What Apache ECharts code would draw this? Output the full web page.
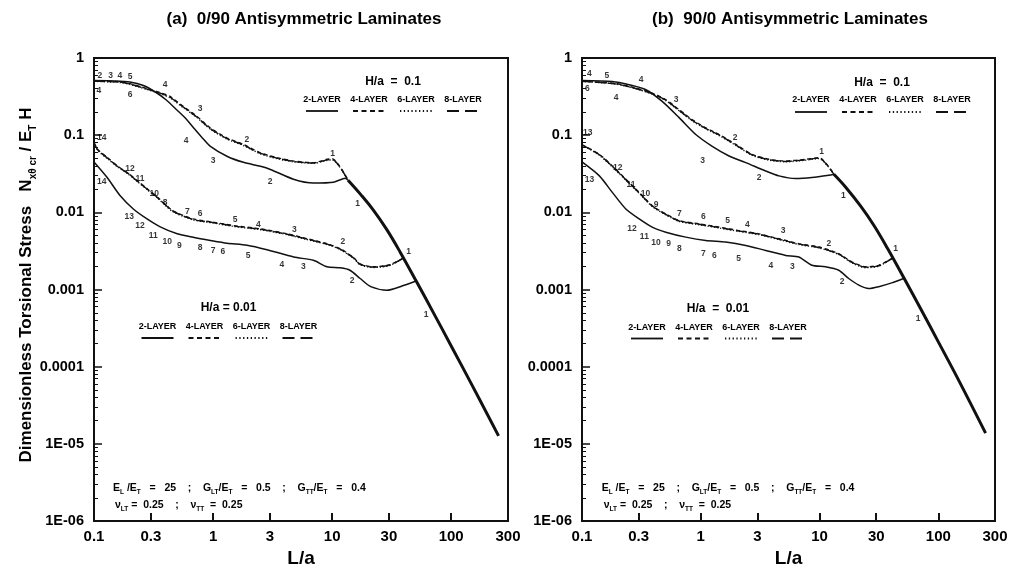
<!DOCTYPE html>
<html><head><meta charset="utf-8">
<script src="https://cdn.jsdelivr.net/npm/echarts@6/dist/echarts.min.js"></script>
<style>html,body{margin:0;padding:0;background:#fff}#c{width:1016px;height:573px}</style>
</head><body><div id="c"></div>
<script>
// ---------- axis ticks / labels ----------
const xTickValues = [0.1, 0.3, 1, 3, 10, 30, 100, 300];
const xTickLabels = ['0.1', '0.3', '1', '3', '10', '30', '100', '300'];
const xTickMarks = [0.3, 1, 3, 10, 30, 100];
const yTickValues = [1e-6, 1e-5, 1e-4, 1e-3, 1e-2, 1e-1, 1];
const yTickLabels = ['1E-06', '1E-05', '0.0001', '0.001', '0.01', '0.1', '1'];
const layerNames = ['2-LAYER', '4-LAYER', '6-LAYER', '8-LAYER'];
const panelTitles = ['(a)  0/90 Antisymmetric Laminates', '(b)  90/0 Antisymmetric Laminates'];

// ---------- panel (a) 0/90 ----------
// H/a = 0.1
const aTopSolidX = [0.1, 0.15, 0.2, 0.26, 0.33, 0.4, 0.5, 0.6, 0.7, 0.8, 0.95, 1.32, 1.8, 2.5, 3.03, 4.73, 6.97, 10.3, 12.9, 13.6];
const aTopSolidY = [0.51, 0.505, 0.49, 0.44, 0.36, 0.29, 0.21, 0.16, 0.12, 0.095, 0.0716, 0.053, 0.0445, 0.0395, 0.036, 0.0269, 0.024, 0.0246, 0.0277, 0.0261];
const aTopDashX = [0.1, 0.13, 0.17, 0.2, 0.28, 0.36, 0.435, 0.562, 0.73, 0.944, 1.3, 1.8, 2.48, 3.43, 4.73, 6.97, 9.02, 10.0, 13.6];
const aTop4Y = [0.50, 0.50, 0.49, 0.465, 0.40, 0.355, 0.318, 0.236, 0.176, 0.1245, 0.0926, 0.0759, 0.0593, 0.0512, 0.0463, 0.0441, 0.0487, 0.0497, 0.0261];
const aTop6Y = [0.50, 0.49, 0.48, 0.455, 0.39, 0.345, 0.305, 0.228, 0.170, 0.120, 0.0895, 0.0735, 0.0575, 0.0498, 0.0452, 0.0432, 0.0470, 0.0480, 0.0261];
const aTop8Y = [0.50, 0.495, 0.485, 0.46, 0.395, 0.35, 0.31, 0.232, 0.172, 0.122, 0.091, 0.0745, 0.0585, 0.0505, 0.0457, 0.0436, 0.0478, 0.0488, 0.0261];
// H/a = 0.01
const aLowSolidX = [0.1, 0.129, 0.166, 0.214, 0.279, 0.36, 0.5, 0.68, 0.95, 1.31, 1.93, 2.84, 4.76, 6.96, 9.08, 11.7, 14.1, 17.2, 21.1, 28.8, 37.3, 50];
const aLowSolidY = [0.045, 0.0283, 0.0164, 0.01106, 0.00822, 0.00649, 0.00527, 0.00475, 0.00432, 0.00398, 0.00375, 0.00328, 0.00264, 0.00239, 0.00197, 0.00191, 0.00178, 0.00139, 0.00109, 0.00098, 0.00109, 0.00128];
const aLowDashX = [0.1, 0.108, 0.131, 0.159, 0.193, 0.234, 0.284, 0.345, 0.46, 0.68, 1.0, 1.48, 2.5, 4.19, 6.17, 9.08, 11.7, 15.1, 17.2, 22.2, 30.6, 39.7];
const aLow4Y = [0.08, 0.0648, 0.0505, 0.0395, 0.0323, 0.0253, 0.0198, 0.0155, 0.0105, 0.00822, 0.00746, 0.00675, 0.00611, 0.00527, 0.00455, 0.00392, 0.00338, 0.0026, 0.00215, 0.00197, 0.0021, 0.00256];
const aLow6Y = [0.08, 0.063, 0.049, 0.0385, 0.0315, 0.0247, 0.0193, 0.0151, 0.0102, 0.0080, 0.00728, 0.00658, 0.00596, 0.00514, 0.00444, 0.00383, 0.00330, 0.00254, 0.0021, 0.00193, 0.00206, 0.00256];
const aLow8Y = [0.08, 0.064, 0.050, 0.039, 0.032, 0.025, 0.0196, 0.0153, 0.0104, 0.0081, 0.00737, 0.00667, 0.00604, 0.0052, 0.0045, 0.00388, 0.00334, 0.00257, 0.00212, 0.00195, 0.00208, 0.00256];
// common mode-1 branch
const aMode1X = [13.6, 17.2, 22.2, 28.8, 37.3, 51.5, 71, 100, 150, 250];
const aMode1Y = [0.0261, 0.01737, 0.01071, 0.00597, 0.00305, 0.00124, 0.000499, 0.000186, 5.73e-5, 1.27e-5];
// mode-number annotations [text, L/a, value]
const aModeLabels = [
  ['2', 0.112, 0.587], ['3', 0.138, 0.587], ['4', 0.165, 0.587], ['5', 0.2007, 0.565], ['6', 0.2007, 0.334], ['4', 0.110, 0.376],
  ['4', 0.395, 0.449], ['3', 0.778, 0.221], ['2', 1.92, 0.088], ['1', 10.1, 0.0581],
  ['4', 0.593, 0.0862], ['3', 1.0, 0.0463], ['2', 3.01, 0.0248], ['1', 16.4, 0.0131],
  ['14', 0.116, 0.093], ['12', 0.2007, 0.037], ['11', 0.2436, 0.0275], ['10', 0.321, 0.01725], ['8', 0.395, 0.0132],
  ['7', 0.608, 0.0102], ['6', 0.778, 0.00953], ['5', 1.53, 0.00805], ['4', 2.40, 0.00695], ['3', 4.82, 0.00593],
  ['2', 12.3, 0.00412], ['1', 43.8, 0.00312],
  ['14', 0.116, 0.0248], ['13', 0.198, 0.00891], ['12', 0.2436, 0.00675], ['11', 0.315, 0.00501], ['10', 0.413, 0.0042],
  ['9', 0.521, 0.00366], ['8', 0.778, 0.00348], ['7', 1.0, 0.00321], ['6', 1.21, 0.00306], ['5', 1.97, 0.00277],
  ['4', 3.78, 0.0021], ['3', 5.74, 0.00197], ['2', 14.7, 0.00132], ['1', 61.7, 0.000478]
];

// ---------- panel (b) 90/0 ----------
const bTopSolidX = [0.1, 0.18, 0.249, 0.345, 0.473, 0.657, 0.908, 1.24, 1.73, 2.39, 3.52, 4.55, 6.28, 8.61, 11.97, 13.2];
const bTopSolidY = [0.51, 0.495, 0.45, 0.388, 0.274, 0.169, 0.102, 0.0722, 0.0537, 0.0441, 0.0344, 0.0297, 0.0275, 0.0283, 0.0303, 0.0312];
const bTopDashX = [0.1, 0.18, 0.218, 0.284, 0.39, 0.508, 0.657, 0.845, 1.10, 1.43, 1.97, 2.70, 3.75, 5.18, 7.63, 9.87, 13.2];
const bTop4Y = [0.50, 0.472, 0.45, 0.407, 0.351, 0.288, 0.214, 0.159, 0.1245, 0.102, 0.0759, 0.0565, 0.0487, 0.0463, 0.0487, 0.0512, 0.0312];
const bTop6Y = [0.50, 0.465, 0.442, 0.398, 0.342, 0.28, 0.207, 0.154, 0.121, 0.099, 0.0738, 0.055, 0.0475, 0.0452, 0.0474, 0.0498, 0.0312];
const bTop8Y = [0.50, 0.468, 0.446, 0.402, 0.346, 0.284, 0.21, 0.156, 0.1225, 0.1005, 0.0748, 0.0557, 0.0481, 0.0457, 0.048, 0.0505, 0.0312];
const bLowSolidX = [0.1, 0.14, 0.18, 0.234, 0.303, 0.39, 0.508, 0.748, 1.10, 1.62, 2.39, 3.52, 5.18, 6.7, 8.61, 11.2, 14.5, 17.6, 21.4, 25.9, 31.5, 40.5, 51.5];
const bLowSolidY = [0.045, 0.0297, 0.01815, 0.01106, 0.00822, 0.00643, 0.00554, 0.00478, 0.00432, 0.00412, 0.00373, 0.00321, 0.00277, 0.00264, 0.00206, 0.00197, 0.00178, 0.00139, 0.00114, 0.00103, 0.00109, 0.00122, 0.0014];
const bLowDashX = [0.1, 0.14, 0.18, 0.234, 0.303, 0.39, 0.508, 0.657, 0.967, 1.43, 2.1, 3.09, 4.55, 6.7, 9.87, 14.5, 18.7, 24.4, 31.5, 41.5];
const bLow4Y = [0.075, 0.0565, 0.0399, 0.0269, 0.01815, 0.0122, 0.00953, 0.00782, 0.0071, 0.00643, 0.00581, 0.00527, 0.00455, 0.00392, 0.00356, 0.00292, 0.00228, 0.00197, 0.00206, 0.00257];
const bLow6Y = [0.075, 0.055, 0.0388, 0.0262, 0.0177, 0.0119, 0.0093, 0.00763, 0.00692, 0.00627, 0.00567, 0.00514, 0.00444, 0.00383, 0.00347, 0.00285, 0.00222, 0.00192, 0.00201, 0.00257];
const bLow8Y = [0.075, 0.0558, 0.0394, 0.0265, 0.0179, 0.0121, 0.0094, 0.00772, 0.00701, 0.00635, 0.00574, 0.0052, 0.0045, 0.00388, 0.00351, 0.00288, 0.00225, 0.00195, 0.00203, 0.00257];
const bMode1X = [13.2, 16.6, 22.2, 28.8, 37.3, 51.5, 71, 100, 150, 250];
const bMode1Y = [0.0312, 0.0212, 0.01204, 0.00672, 0.00343, 0.0014, 0.000563, 0.00021, 6.47e-5, 1.38e-5];
const bModeLabels = [
  ['4', 0.1156, 0.622], ['5', 0.1616, 0.592], ['6', 0.111, 0.399], ['4', 0.3144, 0.521], ['3', 0.619, 0.288], ['2', 1.95, 0.0926], ['1', 10.4, 0.0604],
  ['4', 0.1936, 0.303], ['3', 1.035, 0.0463], ['2', 3.10, 0.0283], ['1', 15.85, 0.0164],
  ['13', 0.112, 0.1074], ['12', 0.2, 0.038], ['11', 0.259, 0.0232], ['10', 0.3417, 0.01725], ['9', 0.42, 0.01245],
  ['7', 0.659, 0.00954], ['6', 1.05, 0.00891], ['5', 1.68, 0.00782], ['4', 2.47, 0.00695], ['3', 4.93, 0.00581],
  ['2', 12.0, 0.00392], ['1', 43.7, 0.00338],
  ['13', 0.1156, 0.0269], ['12', 0.264, 0.00611], ['11', 0.335, 0.00478], ['10', 0.42, 0.004], ['9', 0.536, 0.00392],
  ['8', 0.659, 0.00338], ['7', 1.05, 0.00292], ['6', 1.30, 0.00277], ['5', 2.08, 0.00251], ['4', 3.89, 0.00206],
  ['3', 5.91, 0.00197], ['2', 15.5, 0.00126], ['1', 67.6, 0.000425]
];

// ---------- build ----------
const FONT = '"Liberation Sans", Arial, Helvetica, sans-serif';
const INK = '#111';
const pairs = (xs, ys) => xs.map((x, i) => [x, ys[i]]);
const yMinor = [];
for (let e = -6; e < 0; e++) for (let m = 2; m <= 9; m++) yMinor.push(+(m * Math.pow(10, e)).toPrecision(3));
function pick(v, vals, labels) {
  for (let i = 0; i < vals.length; i++) if (Math.abs(Math.log10(v) - Math.log10(vals[i])) < 1e-6) return labels[i];
  return '';
}
const grids = [
  {left: 94, top: 58, width: 414, height: 466},
  {left: 582, top: 58, width: 413, height: 466}
];
const tickFont = {color: '#000', fontSize: 14.5, fontWeight: 'bold', fontFamily: FONT};

const xAxes = [0, 1].map(gi => ({
  type: 'log', logBase: 10, gridIndex: gi, min: 0.1, max: 300,
  axisLine: {show: true, onZero: false, lineStyle: {color: INK, width: 2}},
  axisTick: {show: true, inside: true, length: 8, customValues: xTickMarks, lineStyle: {color: INK, width: 2}},
  axisLabel: Object.assign({show: true, margin: 8, customValues: xTickValues, formatter: v => pick(v, xTickValues, xTickLabels)}, tickFont, {fontSize: 15}),
  splitLine: {show: false}, minorTick: {show: false},
  name: 'L/a', nameLocation: 'middle', nameGap: 27,
  nameTextStyle: {color: '#000', fontSize: 19, fontWeight: 'bold', fontFamily: FONT}
}));
const yAxes = [];
[0, 1].forEach(gi => {
  yAxes.push({
    type: 'log', logBase: 10, gridIndex: gi, min: 1e-6, max: 1, position: 'left',
    axisLine: {show: true, onZero: false, lineStyle: {color: INK, width: 2}},
    axisTick: {show: true, inside: true, length: 8, customValues: yTickValues, lineStyle: {color: INK, width: 1.5}},
    axisLabel: Object.assign({show: true, margin: 10, customValues: yTickValues, formatter: v => pick(v, yTickValues, yTickLabels)}, tickFont),
    splitLine: {show: false}, minorTick: {show: false}
  });
  yAxes.push({
    type: 'log', logBase: 10, gridIndex: gi, min: 1e-6, max: 1, position: 'left',
    axisLine: {show: false},
    axisTick: {show: true, inside: true, length: 4, customValues: yMinor, lineStyle: {color: INK, width: 1}},
    axisLabel: {show: false}, splitLine: {show: false}
  });
});

const series = [];
function line(gi, data, type, width, smooth) {
  series.push({
    type: 'line', xAxisIndex: gi, yAxisIndex: gi * 2, data: data, showSymbol: false, symbol: 'none',
    smooth: smooth, silent: true, z: width > 2 ? 5 : 3,
    lineStyle: {color: INK, width: width, type: type}
  });
}
function labels(gi, arr) {
  series.push({
    type: 'scatter', xAxisIndex: gi, yAxisIndex: gi * 2, silent: true, symbolSize: 0, z: 6,
    data: arr.map(l => [l[1], l[2], l[0]]),
    label: {show: true, position: 'inside', formatter: p => p.data[2], color: '#000', fontSize: 8.5, fontWeight: 'bold', fontFamily: FONT}
  });
}
const DASH4 = [4, 3], DOT6 = [1.2, 2], LONG8 = [9, 4];
// panel a
line(0, pairs(aTopSolidX, aTopSolidY), 'solid', 1.5, 0.25);
line(0, pairs(aTopDashX, aTop4Y), DASH4, 1.4, 0.25);
line(0, pairs(aTopDashX, aTop6Y), DOT6, 1.4, 0.25);
line(0, pairs(aTopDashX, aTop8Y), LONG8, 1.4, 0.25);
line(0, pairs(aLowSolidX, aLowSolidY), 'solid', 1.5, 0.25);
line(0, pairs(aLowDashX, aLow4Y), DASH4, 1.4, 0.25);
line(0, pairs(aLowDashX, aLow6Y), DOT6, 1.4, 0.25);
line(0, pairs(aLowDashX, aLow8Y), LONG8, 1.4, 0.25);
line(0, pairs(aMode1X, aMode1Y), 'solid', 3, 0.4);
labels(0, aModeLabels);
// panel b
line(1, pairs(bTopSolidX, bTopSolidY), 'solid', 1.5, 0.25);
line(1, pairs(bTopDashX, bTop4Y), DASH4, 1.4, 0.25);
line(1, pairs(bTopDashX, bTop6Y), DOT6, 1.4, 0.25);
line(1, pairs(bTopDashX, bTop8Y), LONG8, 1.4, 0.25);
line(1, pairs(bLowSolidX, bLowSolidY), 'solid', 1.5, 0.25);
line(1, pairs(bLowDashX, bLow4Y), DASH4, 1.4, 0.25);
line(1, pairs(bLowDashX, bLow6Y), DOT6, 1.4, 0.25);
line(1, pairs(bLowDashX, bLow8Y), LONG8, 1.4, 0.25);
line(1, pairs(bMode1X, bMode1Y), 'solid', 3, 0.4);
labels(1, bModeLabels);

// ---------- graphic: titles, y name, legends, notes ----------
const graphic = [];
const bold = (size) => ({fontSize: size, fontWeight: 'bold', fontFamily: FONT, fill: '#000'});
graphic.push({type: 'text', x: 304, y: 19, style: Object.assign({text: panelTitles[0], align: 'center', verticalAlign: 'middle'}, bold(17))});
graphic.push({type: 'text', x: 790, y: 19, style: Object.assign({text: panelTitles[1], align: 'center', verticalAlign: 'middle'}, bold(17))});
graphic.push({
  type: 'text', x: 27, y: 285, rotation: Math.PI / 2,
  style: {
    text: '{m|Dimensionless Torsional Stress   N}{s|xθ cr}{m| / E}{s|T}{m| H}',
    align: 'center', verticalAlign: 'middle', fill: '#000',
    rich: {
      m: {fontSize: 17, fontWeight: 'bold', fontFamily: FONT, lineHeight: 18, verticalAlign: 'top', fill: '#000'},
      s: {fontSize: 10, fontWeight: 'bold', fontFamily: FONT, lineHeight: 10, padding: [10, 0, 0, 0], verticalAlign: 'top', fill: '#000'}
    }
  }
});
function legend(x0, yTitle, yLab, yLine, title) {
  graphic.push({type: 'text', x: x0 + 71, y: yTitle, style: Object.assign({text: title, align: 'center', verticalAlign: 'middle'}, bold(12))});
  const dashes = [null, [5, 3.5], [1.3, 2.5], [12, 6]];
  layerNames.forEach((n, i) => {
    const cx = x0 + i * 47;
    graphic.push({type: 'text', x: cx, y: yLab, style: Object.assign({text: n, align: 'center', verticalAlign: 'middle'}, bold(9))});
    graphic.push({type: 'line', shape: {x1: cx - 16, y1: yLine, x2: cx + 16, y2: yLine},
      style: {stroke: INK, lineWidth: 1.8, lineDash: dashes[i]}});
  });
}
legend(322, 82, 99.5, 111, 'H/a  =  0.1');
legend(157.5, 308, 327, 338, 'H/a = 0.01');
legend(811, 83, 100, 112, 'H/a  =  0.1');
legend(647, 309, 327.5, 338.5, 'H/a  =  0.01');

const noteRich = {
  m: {fontSize: 10.5, fontWeight: 'bold', fontFamily: FONT, lineHeight: 12, verticalAlign: 'top', fill: '#000'},
  s: {fontSize: 6.5, fontWeight: 'bold', fontFamily: FONT, lineHeight: 7, padding: [6, 0, 0, 0], verticalAlign: 'top', fill: '#000'}
};
const note1 = '{m|E}{s|L}{m| /E}{s|T}{m|   =   25    ;    G}{s|LT}{m|/E}{s|T}{m|   =   0.5    ;    G}{s|TT}{m|/E}{s|T}{m|   =   0.4}';
const note2 = '{m|ν}{s|LT}{m| =  0.25    ;    ν}{s|TT}{m|  =  0.25}';
[[113, 489], [601.7, 488.5]].forEach(p => {
  graphic.push({type: 'text', x: p[0], y: p[1], style: {text: note1, align: 'left', verticalAlign: 'middle', rich: noteRich}});
  graphic.push({type: 'text', x: p[0] + 2, y: p[1] + 17, style: {text: note2, align: 'left', verticalAlign: 'middle', rich: noteRich}});
});

const chart = echarts.init(document.getElementById('c'), null, {renderer: 'canvas'});
chart.setOption({
  animation: false,
  backgroundColor: '#fff',
  grid: grids.map(g => Object.assign({show: true, borderColor: INK, borderWidth: 2, backgroundColor: 'transparent', containLabel: false}, g)),
  xAxis: xAxes,
  yAxis: yAxes,
  series: series,
  graphic: graphic
});
</script>
</body></html>
